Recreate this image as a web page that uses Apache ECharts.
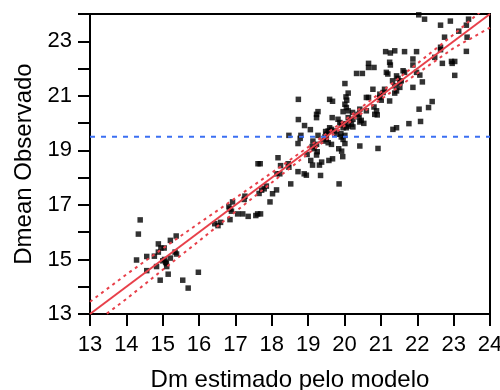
<!DOCTYPE html>
<html>
<head>
<meta charset="utf-8">
<script src="https://cdn.jsdelivr.net/npm/echarts@6/dist/echarts.min.js"></script>
<style>
html,body{margin:0;padding:0;background:#fff;}
#c{width:500px;height:390px;}
</style>
</head>
<body>
<div id="c"></div>
<script>
// Observed points: x = Dm estimado pelo modelo, y = Dmean Observado
const obsX = [14.38,14.33,14.28,14.56,14.56,14.77,14.88,14.95,15.04,14.88,15.21,15.37,15.34,15.38,15.00,15.08,15.05,15.10,15.21,15.11,14.83,15.15,14.93,15.55,15.70,15.98,16.43,16.52,16.59,
18.47,18.80,18.72,18.17,17.62,17.68,18.24,18.45,18.14,18.22,18.72,18.89,18.52,17.85,17.79,17.72,17.65,18.13,18.02,17.95,17.26,17.24,16.92,16.82,16.85,16.89,17.06,17.20,17.35,17.56,17.61,17.69,16.85,
18.73,18.73,18.90,19.06,19.27,19.23,19.23,19.59,19.67,19.66,18.78,19.27,19.13,19.23,19.11,19.16,19.41,19.50,20.01,19.96,19.84,19.92,19.67,18.97,19.25,19.23,19.07,19.12,19.37,19.31,18.95,19.34,19.57,19.95,19.85,18.47,
20.04,20.60,20.66,21.01,20.81,20.01,20.05,20.10,19.96,19.82,19.87,20.10,20.14,20.01,20.05,20.10,20.19,20.23,20.37,20.40,20.60,20.83,20.90,20.46,19.59,19.55,19.64,19.73,19.78,19.50,19.46,19.90,19.91,19.55,19.64,20.01,20.42,20.92,19.91,19.96,19.48,20.22,20.23,20.42,20.53,20.42,20.88,
20.01,20.10,20.33,20.49,20.66,20.66,20.81,21.13,21.26,21.38,21.65,21.98,21.24,21.26,21.88,21.88,21.15,21.19,21.61,21.65,21.43,21.98,22.07,21.47,21.56,21.52,22.14,21.32,21.38,21.52,21.88,21.43,21.38,20.78,21.10,21.06,20.97,20.97,21.24,22.05,21.33,21.43,21.77,22.09,22.31,22.41,
22.04,22.20,22.64,22.91,23.41,23.35,23.14,22.75,23.37,22.64,22.64,23.35,22.48,22.69,22.94,23.03,22.96,23.03,20.06];
const obsY = [16.45,15.93,14.98,15.11,14.59,15.12,15.57,15.42,15.42,15.27,15.70,15.86,15.27,15.20,14.95,14.90,15.00,14.85,15.05,14.74,14.74,14.46,14.24,14.24,13.95,14.53,16.31,16.24,16.36,
19.55,19.55,19.25,18.73,18.51,18.51,18.44,18.51,18.14,18.14,18.22,18.14,17.77,17.69,17.59,17.54,17.42,17.55,17.41,17.11,17.32,17.20,17.11,16.93,16.85,16.77,16.67,16.67,16.58,16.61,16.67,16.67,16.46,
20.87,20.13,19.91,19.76,20.42,20.32,20.20,20.87,20.80,20.20,19.44,19.55,19.34,19.22,19.14,19.06,19.34,19.40,19.55,19.40,19.06,18.97,18.69,18.85,18.95,18.83,18.63,18.46,18.57,18.46,18.09,18.08,18.63,18.77,17.77,18.38,
20.96,20.94,20.94,20.84,20.59,20.69,20.57,20.45,20.42,20.14,20.02,20.20,20.10,19.98,19.83,19.89,19.96,19.86,20.32,20.22,20.45,20.32,20.30,20.10,19.83,19.71,19.77,19.71,19.59,19.59,19.49,19.61,19.49,19.28,19.22,19.25,19.16,19.07,19.94,19.83,19.69,20.39,20.14,20.04,19.99,20.51,20.45,
21.45,21.10,21.82,21.82,22.19,22.04,22.04,22.62,22.57,22.65,22.62,22.62,22.23,22.13,22.35,22.13,21.86,21.80,21.92,21.86,21.73,21.86,21.76,21.64,21.55,21.49,21.51,21.55,21.37,21.31,21.31,21.18,21.10,21.24,21.24,21.12,21.06,20.94,20.81,20.51,19.77,19.83,19.98,20.06,20.57,20.79,
23.97,23.81,23.59,23.74,23.81,23.59,23.37,23.15,23.15,22.78,22.69,22.63,22.41,22.19,22.26,22.26,22.19,21.75,20.84];

// 1:1 line and dotted band lines
const lineX = [13, 24];
const lineY = [13, 24];
const bandX = [13,14,15,16,17,18,19,20,21,22,23,24];
const bandUpper = [13.45,14.45,15.40,16.33,17.25,18.18,19.12,20.10,21.13,22.18,23.25,24.38];
const bandLower = [12.55,13.55,14.62,15.68,16.75,17.82,18.88,19.90,20.87,21.82,22.75,23.50];
const refLevel = 19.5;

const xTicks = [13,14,15,16,17,18,19,20,21,22,23,24];
const yTickLabels = [13,15,17,19,21,23];

const FONT = 'Liberation Sans, Arial, sans-serif';
const RED = '#e8404a';
const BLUE = '#3b6ff2';

const chart = echarts.init(document.getElementById('c'), null, {renderer:'canvas'});
const zip = (a,b) => a.map((v,i)=>[v,b[i]]);

chart.setOption({
  animation:false,
  backgroundColor:'#fff',
  grid:{left:90, right:10, top:14, bottom:76, show:true, borderColor:'#000', borderWidth:2, backgroundColor:'transparent',
        containLabel:false, outerBoundsMode:'none'},
  xAxis:{
    type:'value', min:xTicks[0], max:xTicks[xTicks.length-1], interval:1,
    name:'Dm estimado pelo modelo', nameLocation:'middle', nameGap:54,
    nameTextStyle:{fontFamily:FONT, fontSize:24, color:'#000'},
    axisLine:{show:true, onZero:false, lineStyle:{color:'#000', width:2}},
    axisTick:{show:true, length:12, lineStyle:{color:'#000', width:2}},
    axisLabel:{fontFamily:FONT, fontSize:22, color:'#000', margin:20, showMaxLabel:true, showMinLabel:true},
    splitLine:{show:false}
  },
  yAxis:{
    type:'value', min:13, max:24, interval:1,
    name:'Dmean Observado', nameLocation:'middle', nameGap:50,
    nameTextStyle:{fontFamily:FONT, fontSize:24, color:'#000'},
    axisLine:{show:true, onZero:false, lineStyle:{color:'#000', width:2}},
    axisTick:{show:true, length:12, lineStyle:{color:'#000', width:2}},
    axisLabel:{fontFamily:FONT, fontSize:22, color:'#000', margin:18,
      formatter: v => yTickLabels.indexOf(v) >= 0 ? String(v) : ''},
    splitLine:{show:false}
  },
  series:[
    {type:'scatter', data:zip(obsX, obsY), symbol:'rect', symbolSize:5.5, itemStyle:{color:'#000'}, z:2},
    {type:'line', data:zip(bandX, bandUpper), showSymbol:false, symbol:'none', clip:true,
      lineStyle:{color:RED, width:2, type:[3,4]}, z:3},
    {type:'line', data:zip(bandX, bandLower), showSymbol:false, symbol:'none', clip:true,
      lineStyle:{color:RED, width:2, type:[3,4]}, z:3},
    {type:'line', data:zip(lineX, lineY), showSymbol:false, symbol:'none', clip:true,
      lineStyle:{color:RED, width:2}, z:4},
    {type:'line', data:[[xTicks[0], refLevel],[xTicks[xTicks.length-1], refLevel]], showSymbol:false, symbol:'none', clip:true,
      lineStyle:{color:BLUE, width:2, type:[5,6]}, z:4}
  ]
});
</script>
</body>
</html>
